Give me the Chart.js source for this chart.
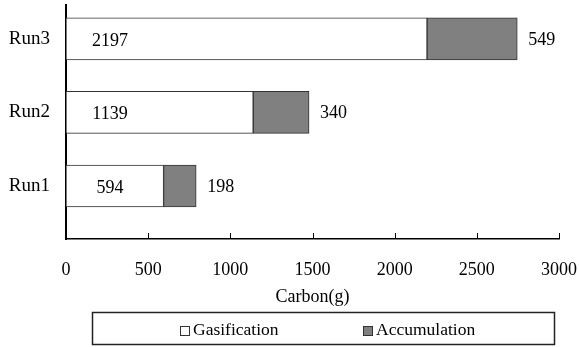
<!DOCTYPE html>
<html>
<head>
<meta charset="utf-8">
<script src="https://cdn.jsdelivr.net/npm/chart.js@4/dist/chart.umd.min.js"></script>
<style>
  html, body { margin: 0; padding: 0; background: #fff; }
  #wrap { width: 579px; height: 347px; }
</style>
</head>
<body>
<div id="wrap"><canvas id="chart" width="579" height="347"></canvas></div>
<script>
// Runs, bottom to top
const categories = ['Run1', 'Run2', 'Run3'];
const gasification = [594, 1139, 2197];
const accumulation = [198, 340, 549];
const xTicks = [0, 500, 1000, 1500, 2000, 2500, 3000];
const seriesNames = ['Gasification', 'Accumulation'];
const axisTitle = 'Carbon(g)';

const FONT = 'Liberation Serif, "Times New Roman", serif';

const toPoints = vals => vals.map((v, i) => ({ x: v, y: i }));

// Keep the plot frame fixed: no extra room reserved for edge tick labels
const noEdgePadding = s => {
  s.paddingLeft = 0; s.paddingRight = 0; s.paddingTop = 0; s.paddingBottom = 0;
};

// Value labels: gasification inside the bar near its base, accumulation after the bar end
const valueLabels = {
  id: 'valueLabels',
  afterDatasetsDraw(chart) {
    const ctx = chart.ctx;
    ctx.save();
    ctx.font = '18px ' + FONT;
    ctx.fillStyle = '#000';
    ctx.textBaseline = 'middle';
    const m0 = chart.getDatasetMeta(0);
    m0.data.forEach((bar, i) => {
      ctx.textAlign = 'center';
      ctx.fillText(String(gasification[i]), bar.base + 44, bar.y + 2);
    });
    const m1 = chart.getDatasetMeta(1);
    m1.data.forEach((bar, i) => {
      ctx.textAlign = 'left';
      ctx.fillText(String(accumulation[i]), bar.x + 11, bar.y + 1);
    });
    ctx.restore();
  }
};

// Short tick marks pointing up into the plot from the value axis
const innerTicks = {
  id: 'innerTicks',
  afterDraw(chart) {
    const ctx = chart.ctx;
    const xs = chart.scales.x;
    const y0 = chart.chartArea.bottom;
    ctx.save();
    ctx.strokeStyle = '#000';
    ctx.lineWidth = 1;
    xTicks.forEach(v => {
      const px = Math.round(xs.getPixelForValue(v)) + 0.5;
      ctx.beginPath();
      ctx.moveTo(px, y0);
      ctx.lineTo(px, y0 - 6);
      ctx.stroke();
    });
    ctx.restore();
  }
};

// Boxed legend below the axis title
const boxedLegend = {
  id: 'boxedLegend',
  afterDraw(chart) {
    const ctx = chart.ctx;
    ctx.save();
    ctx.strokeStyle = '#222';
    ctx.lineWidth = 1.5;
    ctx.strokeRect(92.5, 312.5, 462, 32);
    const items = [
      { x: 180, ds: chart.data.datasets[0] },
      { x: 363, ds: chart.data.datasets[1] }
    ];
    ctx.font = '17.5px ' + FONT;
    ctx.textBaseline = 'middle';
    ctx.textAlign = 'left';
    items.forEach(it => {
      ctx.fillStyle = it.ds.backgroundColor;
      ctx.fillRect(it.x + 0.5, 326.5, 9, 9);
      ctx.strokeStyle = '#333';
      ctx.lineWidth = 1;
      ctx.strokeRect(it.x + 0.5, 326.5, 9, 9);
      ctx.fillStyle = '#000';
      ctx.fillText(it.ds.label, it.x + 13, 330);
    });
    ctx.restore();
  }
};

new Chart(document.getElementById('chart'), {
  type: 'bar',
  data: {
    datasets: [
      {
        label: seriesNames[0],
        data: toPoints(gasification),
        backgroundColor: '#ffffff',
        borderColor: '#333333',
        borderWidth: 1,
        borderSkipped: false,
        barThickness: 42
      },
      {
        label: seriesNames[1],
        data: toPoints(accumulation),
        backgroundColor: '#808080',
        borderColor: '#333333',
        borderWidth: 1,
        borderSkipped: false,
        barThickness: 42
      }
    ]
  },
  options: {
    indexAxis: 'y',
    responsive: false,
    animation: false,
    layout: { padding: { left: 0, top: 5, right: 20, bottom: 0 } },
    plugins: {
      legend: { display: false },
      tooltip: { enabled: false }
    },
    scales: {
      x: {
        type: 'linear',
        stacked: true,
        offset: false,
        min: 0,
        max: 3000,
        afterBuildTicks: s => { s.ticks = xTicks.map(v => ({ value: v })); },
        afterFit: s => { s.height = 108; noEdgePadding(s); },
        grid: { display: false, drawTicks: false },
        border: { display: true, color: '#000', width: 1.5 },
        ticks: {
          padding: 20,
          color: '#000',
          font: { family: FONT, size: 18 },
          maxRotation: 0,
          callback: v => String(v)
        },
        title: {
          display: true,
          text: axisTitle,
          color: '#000',
          font: { family: FONT, size: 18 },
          padding: { top: 0, bottom: 39 }
        }
      },
      y: {
        type: 'linear',
        stacked: true,
        offset: false,
        min: -0.72,
        max: 2.46,
        afterBuildTicks: s => { s.ticks = categories.map((c, i) => ({ value: i })); },
        afterFit: s => { s.width = 66; noEdgePadding(s); },
        grid: { display: false, drawTicks: false },
        border: { display: true, color: '#000', width: 2 },
        ticks: {
          padding: 16,
          color: '#000',
          font: { family: FONT, size: 19 },
          callback: v => categories[v] ?? ''
        }
      }
    }
  },
  plugins: [valueLabels, innerTicks, boxedLegend]
});
</script>
</body>
</html>
